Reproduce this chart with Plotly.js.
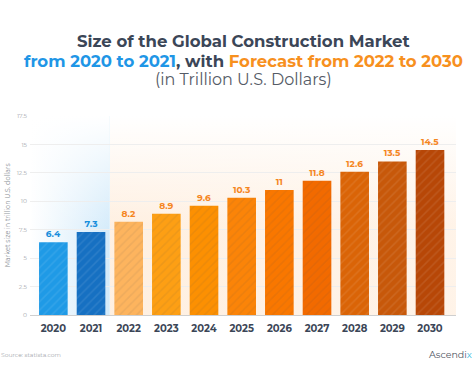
<!DOCTYPE html>
<html>
<head>
<meta charset="utf-8">
<script src="https://cdn.plot.ly/plotly-3.0.1.min.js"></script>
<style>
html,body{margin:0;padding:0;background:#fff;}
#chart{width:474px;height:388px;}
</style>
</head>
<body>
<div id="chart"></div>
<script>
const years = ["2020","2021","2022","2023","2024","2025","2026","2027","2028","2029","2030"];
const marketSize = [6.4, 7.3, 8.2, 8.9, 9.6, 10.3, 11, 11.8, 12.6, 13.5, 14.5];
const barColors = ["#1f9ae6","#1670c2","#fdb45e","#fd9f14","#fc9002","#fb8408","#f97700","#f26a00","#da6407","#c7580a","#b74707"];
const labelColors = ["#1a8fdc","#1a8fdc","#f5861f","#f5861f","#f5861f","#f5861f","#f5861f","#f5861f","#f5861f","#f5861f","#f5861f"];
const yTicks = [0, 2.5, 5, 7.5, 10, 12.5, 15, 17.5];

const font = "Montserrat, 'Noto Sans', 'Open Sans', sans-serif";

const trace = {
  type: "bar",
  x: years,
  y: marketSize,
  marker: {
    color: barColors,
    line: {width: 0},
    pattern: {shape: "/", fgcolor: "#ffffff", fgopacity: 0.09, size: 6, solidity: 0.25, fillmode: "overlay"}
  },
  text: marketSize.map(v => String(v)),
  textposition: "outside",
  textfont: {family: font, size: 9, color: labelColors, weight: 700},
  cliponaxis: false,
  hoverinfo: "none"
};

function gradSvg(color, hStart, hEnd, fadeEnd) {
  const svg = "<svg xmlns='http://www.w3.org/2000/svg' width='100' height='100' viewBox='0 0 100 100' preserveAspectRatio='none'>" +
    "<defs><linearGradient id='h' x1='0' x2='1' y1='0' y2='0'>" +
    "<stop offset='0' stop-color='" + color + "' stop-opacity='" + hStart + "'/>" +
    "<stop offset='1' stop-color='" + color + "' stop-opacity='" + hEnd + "'/></linearGradient>" +
    "<linearGradient id='v' x1='0' x2='0' y1='0' y2='1'>" +
    "<stop offset='0' stop-color='#ffffff' stop-opacity='1'/>" +
    "<stop offset='" + fadeEnd + "' stop-color='#ffffff' stop-opacity='0'/></linearGradient></defs>" +
    "<rect x='0' y='0' width='100' height='100' fill='url(#h)'/>" +
    "<rect x='0' y='0' width='100' height='100' fill='url(#v)'/></svg>";
  return "data:image/svg+xml;charset=utf-8," + encodeURIComponent(svg);
}

const images = [
  {source: gradSvg("#1e96e6", 0, 0.2, 0.6), xref: "x", yref: "y", x: -0.62, y: 17.5,
   sizex: 2.12, sizey: 17.5, sizing: "stretch", xanchor: "left", yanchor: "top", layer: "below"},
  {source: gradSvg("#fca550", 0.17, 0.13, 0.55), xref: "x", yref: "y", x: 1.5, y: 17.5,
   sizex: 9.19, sizey: 17.5, sizing: "stretch", xanchor: "left", yanchor: "top", layer: "below"}
];

const annotations = [
  {text: "<b>Size of the Global Construction Market</b>", x: 0.5, xref: "paper", y: 1.377, yref: "paper",
   xanchor: "center", yanchor: "middle", showarrow: false,
   font: {family: font, size: 16.5, color: "#3b4657"}},
  {text: "<b><span style='color:#1f96e6'>from 2020 to 2021</span>, with <span style='color:#f7901e'>Forecast from 2022 to 2030</span></b>",
   x: 0.5, xref: "paper", y: 1.277, yref: "paper", xanchor: "center", yanchor: "middle", showarrow: false,
   font: {family: font, size: 16.5, color: "#3b4657"}},
  {text: "(in Trillion U.S. Dollars)", x: 0.5, xref: "paper", y: 1.181, yref: "paper",
   xanchor: "center", yanchor: "middle", showarrow: false,
   font: {family: font, size: 16, color: "#555b66"}},
  {text: "Market size in trillion U.S. dollars", x: -0.052, xref: "paper", y: 0.5, yref: "paper",
   xanchor: "center", yanchor: "middle", textangle: -90, showarrow: false,
   font: {family: font, size: 6.5, color: "#8a8f96"}},
  {text: "Source: statista.com", x: -0.072, xref: "paper", y: -0.2, yref: "paper",
   xanchor: "left", yanchor: "middle", showarrow: false,
   font: {family: font, size: 6, color: "#a5a8ad"}},
  {text: "Ascendi<span style='color:#2bb6dc'>x</span>", x: 1.042, xref: "paper", y: -0.2, yref: "paper",
   xanchor: "right", yanchor: "middle", showarrow: false,
   font: {family: font, size: 9.5, color: "#50565f"}}
];

const layout = {
  width: 474, height: 388,
  margin: {l: 30, r: 18, t: 116, b: 73, pad: 0},
  paper_bgcolor: "#ffffff",
  plot_bgcolor: "rgba(0,0,0,0)",
  showlegend: false,
  bargap: 0.24,
  xaxis: {
    type: "category",
    range: [-0.62, 10.69],
    showgrid: false,
    zeroline: false,
    showline: false,
    ticks: "",
    ticklabelstandoff: 6,
    tickfont: {family: font, size: 10, color: "#3b4657", weight: 700},
    fixedrange: true
  },
  yaxis: {
    range: [0, 17.5],
    tickvals: yTicks,
    ticktext: yTicks.map(v => String(v)),
    showgrid: true,
    gridcolor: "#eeeeee",
    gridwidth: 1,
    zeroline: true,
    zerolinecolor: "#cfcfcf",
    zerolinewidth: 1,
    showline: false,
    ticks: "",
    ticklabelstandoff: 2,
    tickfont: {family: font, size: 6, color: "#a0a4a9"},
    fixedrange: true
  },
  images: images,
  annotations: annotations
};

Plotly.newPlot("chart", [trace], layout, {displayModeBar: false, staticPlot: true});
</script>
</body>
</html>
